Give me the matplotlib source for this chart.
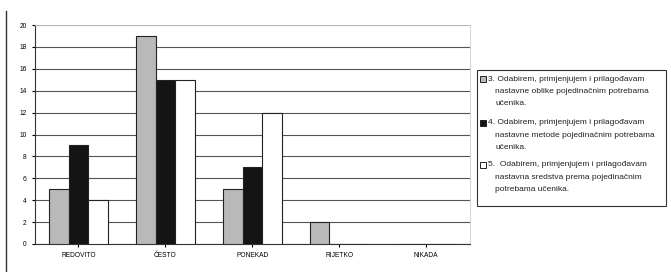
import matplotlib
matplotlib.use("Agg")
import matplotlib.pyplot as plt
import numpy as np
from matplotlib.patches import Rectangle
from matplotlib.lines import Line2D

plt.rcParams['font.family'] = ['Liberation Sans', 'DejaVu Sans']

categories = ["REDOVITO", "ČESTO", "PONEKAD", "RIJETKO", "NIKADA"]
series_names = [
    ["3. Odabirem, primjenjujem i prilagođavam", "nastavne oblike pojedinačnim potrebama", "učenika."],
    ["4. Odabirem, primjenjujem i prilagođavam", "nastavne metode pojedinačnim potrebama", "učenika."],
    ["5.  Odabirem, primjenjujem i prilagođavam", "nastavna sredstva prema pojedinačnim", "potrebama učenika."],
]
s3 = [5, 19, 5, 2, 0]
s4 = [9, 15, 7, 0, 0]
s5 = [4, 15, 12, 0, 0]
yticks = list(range(0, 21, 2))

colors = ["#b9b9b9", "#141414", "#ffffff"]

W, H = 671, 272
fig = plt.figure(figsize=(6.71, 2.72), dpi=100)
ax = fig.add_axes([0.052, 0.103, 0.648, 0.805])

x = np.arange(len(categories))
w = 0.225
for i, (vals, c) in enumerate(zip([s3, s4, s5], colors)):
    ax.bar(x + (i - 1) * w, vals, w, color=c, edgecolor="#222222", linewidth=0.8, zorder=3)

ax.set_xlim(-0.5, 4.5)
ax.set_ylim(0, 20)
ax.set_yticks(yticks)
ax.set_yticklabels([str(t) for t in yticks], fontsize=4.8)
ax.set_xticks(x)
ax.set_xticklabels(categories, fontsize=4.8)
ax.yaxis.grid(True, color="#555555", linewidth=0.8, zorder=0)
ax.tick_params(axis="both", length=2, width=0.8, pad=4)
for s in ["top", "right"]:
    ax.spines[s].set_color("#cccccc")
    ax.spines[s].set_linewidth(0.6)
for s in ["left", "bottom"]:
    ax.spines[s].set_color("#333333")
    ax.spines[s].set_linewidth(0.8)

# legend drawn manually (pixel layout -> figure fraction)
def fx(px):
    return px / W
def fy(py):
    return 1 - py / H

fig.add_artist(Rectangle((fx(477), fy(206)), fx(666) - fx(477), (206 - 70) / H,
                         transform=fig.transFigure, facecolor="white",
                         edgecolor="#333333", linewidth=0.8))
entry_tops = [79, 123, 165]
line_gap = 12.3
for names, c, yt in zip(series_names, colors, entry_tops):
    fig.add_artist(Rectangle((fx(480), fy(yt + 3)), 6 / W, 6 / H,
                             transform=fig.transFigure, facecolor=c,
                             edgecolor="#222222", linewidth=0.7))
    for k, line in enumerate(names):
        xpos = 488 if k == 0 else 495
        fig.text(fx(xpos), fy(yt + k * line_gap), line, fontsize=6.0,
                 va="center", ha="left", color="#222222")

fig.add_artist(Line2D([0.009, 0.009], [0.0, 0.96], color="#333333", linewidth=1.0))

fig.savefig("out.png", dpi=100)
